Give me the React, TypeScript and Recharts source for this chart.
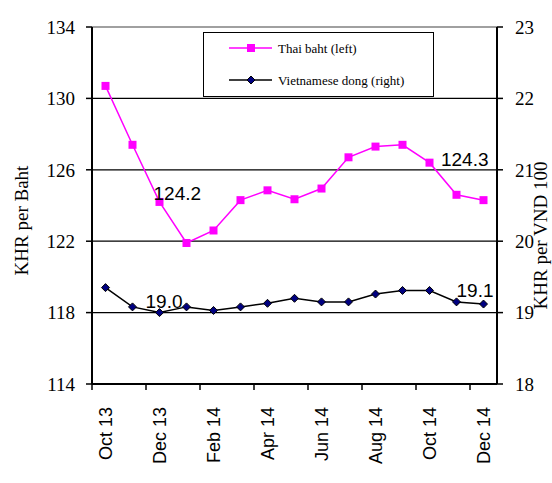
import React from 'react';
import {
  LineChart,
  Line,
  XAxis,
  YAxis,
  ReferenceLine,
  Legend,
} from 'recharts';

const months = [
  'Oct 13', 'Nov 13', 'Dec 13', 'Jan 14', 'Feb 14', 'Mar 14', 'Apr 14', 'May 14',
  'Jun 14', 'Jul 14', 'Aug 14', 'Sep 14', 'Oct 14', 'Nov 14', 'Dec 14',
];
const thaiBaht = [130.7, 127.4, 124.2, 121.9, 122.6, 124.3, 124.85, 124.35, 124.95, 126.7, 127.3, 127.4, 126.4, 124.6, 124.3];
const vndPer100 = [19.35, 19.08, 19.0, 19.08, 19.03, 19.08, 19.13, 19.2, 19.15, 19.15, 19.26, 19.31, 19.31, 19.15, 19.12];

const leftTicks = [114, 118, 122, 126, 130, 134];
const rightTicks = [18, 19, 20, 21, 22, 23];
const gridValues = [118, 122, 126, 130];
// half values carry month labels, whole values carry the tick marks between months
const bottomTicks = [0, 0.5, 2, 2.5, 4, 4.5, 6, 6.5, 8, 8.5, 10, 10.5, 12, 12.5, 14, 14.5];

// value callouts: point index -> text
const thbCallouts: Record<number, string> = { 2: '124.2', 14: '124.3' };
const vndCallouts: Record<number, string> = { 2: '19.0', 14: '19.1' };

const calloutStyle: Record<string, { dx: number; dy: number; anchor: 'start' | 'end' }> = {
  'thb-2': { dx: -6, dy: -2, anchor: 'start' },
  'thb-14': { dx: 5, dy: -34, anchor: 'end' },
  'vnd-2': { dx: -14, dy: -5, anchor: 'start' },
  'vnd-14': { dx: 10, dy: -7, anchor: 'end' },
};

const data = months.map((m, i) => ({
  x: i + 0.5,
  month: m,
  thb: thaiBaht[i],
  vnd: vndPer100[i],
}));

const SERIF = '"Liberation Serif", "Times New Roman", serif';
const SANS = '"Liberation Sans", Arial, sans-serif';
const MAGENTA = '#FF00FF';
const TICK_GAP = 23;

function SquareDot(props: any) {
  const { cx, cy, index } = props;
  return <rect key={`sq-${index}`} x={cx - 4} y={cy - 4} width={8} height={8} fill={MAGENTA} />;
}

function DiamondDot(props: any) {
  const { cx, cy, index } = props;
  const r = 4;
  return (
    <path
      key={`dm-${index}`}
      d={`M${cx},${cy - r} L${cx + r},${cy} L${cx},${cy + r} L${cx - r},${cy} Z`}
      fill="#000080"
      stroke="#000"
      strokeWidth={1}
    />
  );
}

function callout(series: string, texts: Record<number, string>) {
  return (props: any) => {
    const { x, y, index } = props;
    const text = texts[index];
    if (!text) return <g key={`${series}-${index}`} />;
    const s = calloutStyle[`${series}-${index}`];
    return (
      <text
        key={`${series}-${index}`}
        x={x + s.dx}
        y={y + s.dy}
        textAnchor={s.anchor}
        fontFamily={SANS}
        fontSize={19}
        fill="#000"
      >
        {text}
      </text>
    );
  };
}

function MonthTick(props: any) {
  const { x, y, payload } = props;
  const v = payload.value;
  if (Number.isInteger(v)) {
    const axisY = y - TICK_GAP;
    return <line x1={x} x2={x} y1={axisY} y2={axisY + 6} stroke="#000" strokeWidth={1.5} />;
  }
  const label = months[Math.floor(v)];
  return (
    <text
      x={x}
      y={y}
      transform={`rotate(-90, ${x}, ${y})`}
      textAnchor="end"
      dy="0.35em"
      fontFamily={SANS}
      fontSize={18}
      fill="#000"
    >
      {label}
    </text>
  );
}

function AxisTitle(props: any) {
  const { viewBox, text, dx, dy } = props;
  const cx = viewBox.x + dx;
  const cy = viewBox.y + viewBox.height / 2 + dy;
  return (
    <text
      x={cx}
      y={cy}
      transform={`rotate(-90, ${cx}, ${cy})`}
      textAnchor="middle"
      dy="0.35em"
      fontFamily={SERIF}
      fontSize={19}
      fill="#000"
    >
      {text}
    </text>
  );
}

function LegendBox() {
  return (
    <div
      style={{
        width: 231,
        height: 65,
        boxSizing: 'border-box',
        border: '1.5px solid #000',
        background: '#fff',
      }}
    >
      <svg width={228} height={62} style={{ fontFamily: SERIF }}>
        <line x1={25} x2={68} y1={15} y2={15} stroke={MAGENTA} strokeWidth={1.5} />
        <rect x={43} y={11} width={8} height={8} fill={MAGENTA} />
        <text x={74} y={15} dy="0.35em" fontFamily={SERIF} fontSize={13} fill="#000">
          Thai baht (left)
        </text>
        <line x1={25} x2={68} y1={47} y2={47} stroke="#000" strokeWidth={1.5} />
        <path d="M47,43 L51,47 L47,51 L43,47 Z" fill="#000080" stroke="#000" strokeWidth={1} />
        <text x={74} y={47} dy="0.35em" fontFamily={SERIF} fontSize={13} fill="#000">
          Vietnamese dong (right)
        </text>
      </svg>
    </div>
  );
}

export default function App() {
  return (
    <div style={{ position: 'absolute', left: 0, top: 0, background: '#fff' }}>
      <LineChart width={552} height={483} data={data} margin={{ top: 27, right: 0, bottom: 0, left: 0 }}>
        <XAxis
          xAxisId="x"
          type="number"
          dataKey="x"
          domain={[0, 15]}
          ticks={bottomTicks}
          interval={0}
          tick={<MonthTick />}
          tickLine={false}
          tickSize={0}
          tickMargin={TICK_GAP}
          axisLine={{ stroke: '#000', strokeWidth: 2 }}
          height={99}
        />
        <YAxis
          yAxisId="left"
          domain={[114, 134]}
          ticks={leftTicks}
          interval={0}
          width={92}
          tick={{ fontSize: 19, fill: '#000', fontFamily: SERIF }}
          tickLine={{ stroke: '#000', strokeWidth: 1.5 }}
          tickSize={6}
          tickMargin={11}
          axisLine={{ stroke: '#000', strokeWidth: 2 }}
          label={<AxisTitle text="KHR per Baht" dx={21} dy={15} />}
        />
        <YAxis
          yAxisId="right"
          orientation="right"
          domain={[18, 23]}
          ticks={rightTicks}
          interval={0}
          width={55}
          tick={{ fontSize: 19, fill: '#000', fontFamily: SERIF, textAnchor: 'start' }}
          tickLine={{ stroke: '#000', strokeWidth: 1.5 }}
          tickSize={6}
          tickMargin={12}
          axisLine={{ stroke: '#000', strokeWidth: 2 }}
          label={<AxisTitle text="KHR per VND 100" dx={43} dy={30} />}
        />
        <ReferenceLine xAxisId="x" yAxisId="left" y={134} stroke="#808080" strokeWidth={1.5} />
        {gridValues.map((v) => (
          <ReferenceLine key={v} xAxisId="x" yAxisId="left" y={v} stroke="#000" strokeWidth={1.3} />
        ))}
        <Legend
          layout="vertical"
          align="center"
          verticalAlign="middle"
          content={() => <LegendBox />}
          wrapperStyle={{ left: 203, top: 32, width: 231, height: 65 }}
        />
        <Line
          xAxisId="x"
          yAxisId="left"
          dataKey="thb"
          name="Thai baht (left)"
          stroke={MAGENTA}
          strokeWidth={1.5}
          dot={SquareDot}
          activeDot={false}
          label={callout('thb', thbCallouts)}
          isAnimationActive={false}
        />
        <Line
          xAxisId="x"
          yAxisId="right"
          dataKey="vnd"
          name="Vietnamese dong (right)"
          stroke="#000"
          strokeWidth={1.5}
          dot={DiamondDot}
          activeDot={false}
          label={callout('vnd', vndCallouts)}
          isAnimationActive={false}
        />
      </LineChart>
    </div>
  );
}
